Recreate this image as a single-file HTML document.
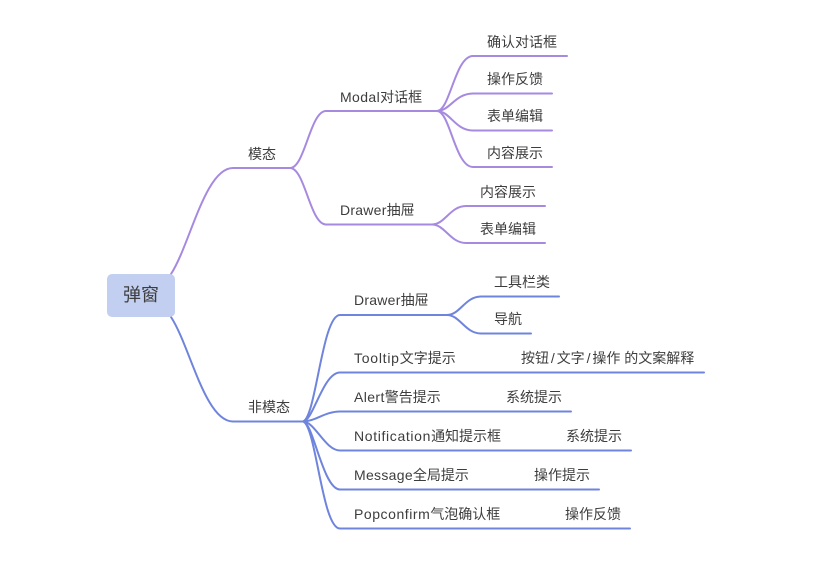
<!DOCTYPE html>
<html><head><meta charset="utf-8">
<style>
html,body{margin:0;padding:0;background:#fff;width:831px;height:567px;overflow:hidden}
svg{display:block}
text{font-family:"Liberation Sans","Noto Sans CJK SC",sans-serif;font-size:14px;fill:#3d3d3d}
.p{fill:none;stroke:#a68ae0;stroke-width:2;stroke-linecap:round}
.b{fill:none;stroke:#6f84dc;stroke-width:2;stroke-linecap:round}
</style></head><body>
<svg width="831" height="567" viewBox="0 0 831 567" xmlns="http://www.w3.org/2000/svg">
<g class="p">
<path d="M171 274C190 245 205 168 233 168H290"/>
<path d="M290 168C305 168 310 111 326 111H437"/>
<path d="M290 168C305 168 310 224.500 326 224.500H432"/>
<path d="M437 111C450 111 455 56 473 56H567"/>
<path d="M437 111C450 111 455 93.500 473 93.500H552"/>
<path d="M437 111C450 111 455 130.500 473 130.500H552"/>
<path d="M437 111C450 111 455 167 473 167H552"/>
<path d="M432 224.500C445 224.500 450 206 466 206H545"/>
<path d="M432 224.500C445 224.500 450 243 466 243H545"/>
</g>
<g class="b">
<path d="M171 317C190 346 205 421.500 233 421.500H303"/>
<path d="M303 421.500C316 418 322 315 340 315H447"/>
<path d="M303 421.500C313 421.500 323 372.500 340 372.500H704"/>
<path d="M303 421.500C315 421.500 325 411.500 340 411.500H571"/>
<path d="M303 421.500C315 421.500 325 450.500 340 450.500H631"/>
<path d="M303 421.500C313 421.500 323 489.500 340 489.500H599"/>
<path d="M303 421.500C316 425 322 528.500 340 528.500H630"/>
<path d="M447 315C460 315 465 296.500 481 296.500H559"/>
<path d="M447 315C460 315 465 333.500 481 333.500H531"/>
</g>
<rect x="107" y="274" width="68" height="43" rx="5" fill="#c2cff0"/>
<text x="123" y="301" style="font-size:18px">弹窗</text>
<text x="248" y="159">模态</text>
<text x="248" y="412">非模态</text>
<text x="340" y="102"><tspan letter-spacing=".4">Modal</tspan>对话框</text>
<text x="340" y="215"><tspan letter-spacing=".25">Drawer</tspan>抽屉</text>
<text x="487" y="47">确认对话框</text>
<text x="487" y="84">操作反馈</text>
<text x="487" y="121">表单编辑</text>
<text x="487" y="158">内容展示</text>
<text x="480" y="197">内容展示</text>
<text x="480" y="234">表单编辑</text>
<text x="354" y="305"><tspan letter-spacing=".25">Drawer</tspan>抽屉</text>
<text x="494" y="287">工具栏类</text>
<text x="494" y="324">导航</text>
<text x="354" y="363"><tspan letter-spacing=".75">Tooltip</tspan>文字提示</text>
<text x="521" y="363">按钮<tspan dx="1.9">/</tspan><tspan dx="1.9">文字</tspan><tspan dx="1.9">/</tspan><tspan dx="1.9">操作 的文案解释</tspan></text>
<text x="354" y="402"><tspan letter-spacing=".4">Alert</tspan>警告提示</text>
<text x="506" y="402">系统提示</text>
<text x="354" y="441"><tspan letter-spacing=".65">Notification</tspan>通知提示框</text>
<text x="566" y="441">系统提示</text>
<text x="354" y="480"><tspan letter-spacing=".3">Message</tspan>全局提示</text>
<text x="534" y="480">操作提示</text>
<text x="354" y="519"><tspan letter-spacing=".55">Popconfirm</tspan>气泡确认框</text>
<text x="565" y="519">操作反馈</text>
</svg>
</body></html>
